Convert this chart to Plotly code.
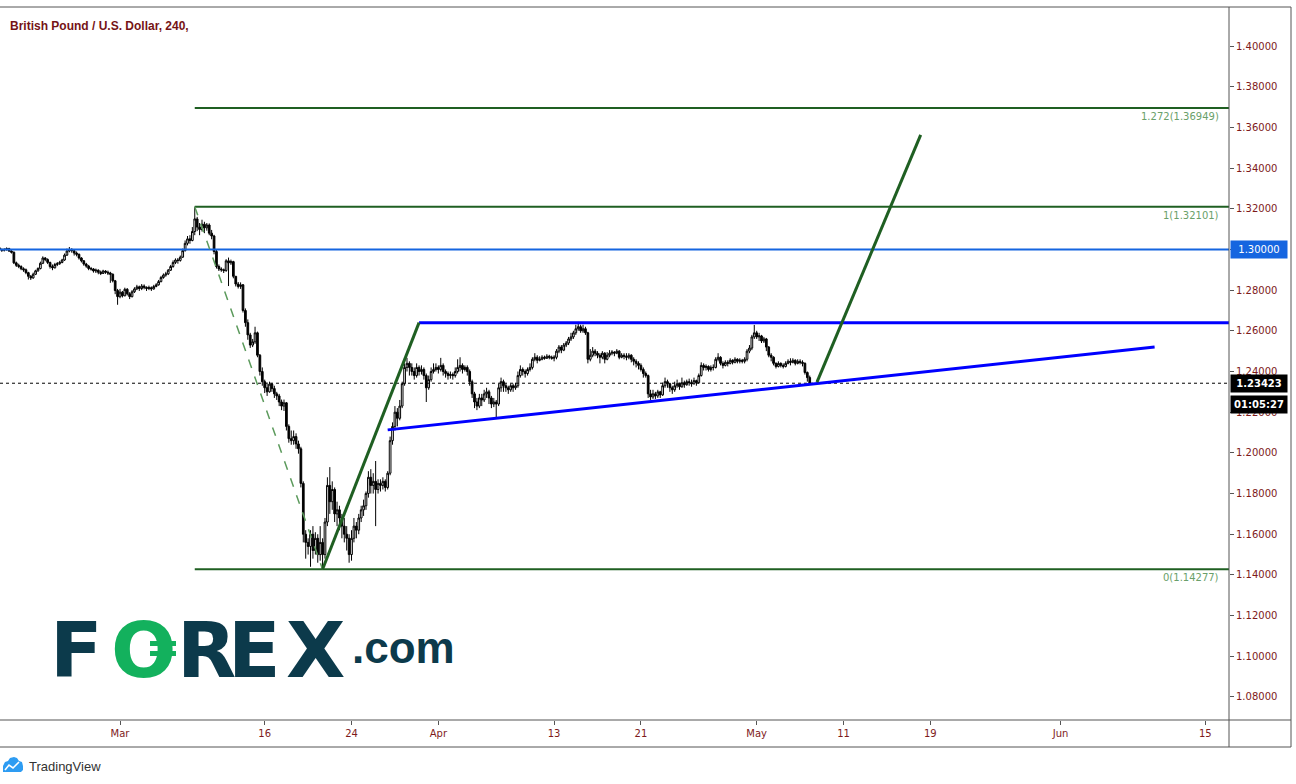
import pandas as pd
import plotly.graph_objects as go

# ---------------- data (prices in pips = 1e-4) ----------------
TITLE = "British Pound / U.S. Dollar, 240,"
first_open = 13008
close_pips = [
    13000, 12996,
    12999, 13004, 12992, 12986, 12934, 12922,
    12916, 12905, 12900, 12886, 12868, 12860,
    12878, 12895, 12906, 12932, 12958, 12950,
    12936, 12916, 12910, 12926, 12930, 12936,
    12948, 12972, 12992, 13000, 12994, 12982,
    12976, 12958, 12944, 12928, 12918, 12906,
    12904, 12894, 12898, 12888, 12882, 12894,
    12888, 12884, 12878, 12846, 12798, 12768,
    12790, 12772, 12804, 12782, 12768, 12792,
    12806, 12816, 12808, 12820, 12814, 12808,
    12812, 12806, 12818, 12826, 12842, 12862,
    12874, 12880, 12898, 12916, 12936, 12948,
    12946, 12962, 12994, 13030, 13052, 13044,
    13088, 13150, 13110, 13098, 13124, 13106,
    13120, 13080, 13066, 12990, 12916, 12904,
    12900, 12896, 12944, 12934, 12940, 12868,
    12830, 12818, 12826, 12700, 12640, 12580,
    12530, 12546, 12590, 12480, 12400, 12350,
    12320, 12300, 12338, 12316, 12290, 12280,
    12250, 12230, 12246, 12130, 12070, 12060,
    12080, 12044, 12020, 11850, 11600, 11560,
    11540, 11600, 11520, 11580, 11500, 11560,
    11500, 11660, 11840, 11760, 11820, 11700,
    11720, 11680, 11640, 11600, 11580, 11500,
    11580, 11640, 11620, 11680, 11720, 11740,
    11800, 11880, 11840, 11860, 11820, 11850,
    11840, 11860, 11830, 11900, 12060, 12130,
    12200, 12170, 12230, 12340, 12420, 12440,
    12420, 12400, 12380, 12420, 12400, 12410,
    12380, 12320, 12360, 12400, 12410, 12420,
    12410, 12430, 12400, 12390, 12380, 12385,
    12380, 12400, 12420, 12430, 12410, 12420,
    12400, 12350, 12290, 12250, 12230, 12270,
    12260, 12290, 12300, 12270, 12240, 12250,
    12240, 12320, 12350, 12330, 12320, 12310,
    12330, 12320, 12330, 12380, 12410, 12400,
    12390, 12410, 12420, 12460, 12470, 12455,
    12460, 12470, 12465, 12475, 12470, 12465,
    12470, 12500, 12520, 12505, 12530, 12540,
    12560, 12570, 12590, 12610, 12620, 12600,
    12610, 12590, 12460, 12480, 12500, 12490,
    12480, 12470, 12490, 12460, 12480, 12490,
    12495, 12490, 12500, 12470, 12480, 12475,
    12470, 12480, 12460, 12450, 12440, 12430,
    12410, 12390, 12380, 12290, 12275, 12290,
    12280, 12300, 12285, 12330, 12350, 12340,
    12320, 12310, 12330, 12340, 12325, 12345,
    12335, 12350, 12345, 12340, 12355, 12345,
    12380, 12430, 12420, 12425, 12410, 12420,
    12420, 12460, 12470, 12440, 12430, 12445,
    12440, 12455, 12445, 12460, 12450, 12455,
    12450, 12460, 12500, 12515, 12570, 12590,
    12570, 12575, 12550, 12560, 12520, 12480,
    12470, 12440, 12425, 12440, 12430, 12425,
    12440, 12450, 12445, 12455, 12440, 12450,
    12445, 12440, 12395, 12370, 12342,
]
high_pips = [
    13012, 13004,
    13006, 13010, 13008, 12996, 12990, 12940,
    12930, 12922, 12912, 12906, 12890, 12874,
    12886, 12900, 12912, 12940, 12966, 12962,
    12956, 12940, 12926, 12934, 12938, 12944,
    12954, 12980, 13004, 13012, 13006, 12998,
    12990, 12980, 12962, 12948, 12934, 12924,
    12914, 12908, 12906, 12902, 12896, 12900,
    12898, 12896, 12890, 12882, 12850, 12806,
    12806, 12796, 12812, 12810, 12790, 12800,
    12814, 12826, 12822, 12830, 12828, 12818,
    12822, 12818, 12826, 12834, 12850, 12870,
    12882, 12890, 12904, 12924, 12946, 12956,
    12958, 12970, 13004, 13044, 13066, 13070,
    13110, 13210, 13160, 13130, 13146, 13136,
    13130, 13128, 13096, 13072, 13000, 12926,
    12912, 12906, 12952, 12960, 12950, 12944,
    12862, 12840, 12838, 12830, 12710, 12656,
    12590, 12560, 12620, 12596, 12486, 12420,
    12360, 12346, 12350, 12344, 12330, 12300,
    12290, 12262, 12262, 12250, 12140, 12110,
    12110, 12096, 12060, 12030, 11860, 11620,
    11580, 11620, 11640, 11610, 11600, 11640,
    11580, 11680, 11880, 11930, 11860, 11830,
    11760, 11740, 11700, 11680, 11640, 11600,
    11620, 11680, 11660, 11700, 11740, 11770,
    11810, 11910, 11920, 11900, 11960, 11870,
    11870, 11880, 11870, 11910, 12080, 12150,
    12230, 12220, 12260, 12350, 12440, 12467,
    12450, 12440, 12420, 12440, 12430, 12430,
    12420, 12390, 12380, 12420, 12440, 12440,
    12430, 12467, 12440, 12410, 12400, 12400,
    12395, 12420, 12460, 12470, 12440, 12430,
    12430, 12410, 12360, 12300, 12270, 12290,
    12290, 12310, 12320, 12310, 12280, 12270,
    12260, 12340, 12370, 12360, 12340, 12330,
    12340, 12340, 12345, 12400, 12430, 12420,
    12410, 12420, 12440, 12470, 12490, 12480,
    12475, 12480, 12478, 12485, 12482, 12478,
    12480, 12510, 12530, 12530, 12540, 12550,
    12570, 12590, 12600, 12630, 12644, 12630,
    12630, 12620, 12595, 12510, 12520, 12510,
    12500, 12490, 12500, 12495, 12495, 12505,
    12505, 12500, 12510, 12505, 12490, 12490,
    12490, 12490, 12485, 12470, 12460, 12450,
    12440, 12420, 12400, 12385, 12310, 12310,
    12300, 12310, 12305, 12345, 12370, 12360,
    12345, 12330, 12350, 12360, 12345, 12370,
    12355, 12360, 12365, 12360, 12370, 12360,
    12390, 12445, 12440, 12435, 12430, 12430,
    12435, 12470, 12490, 12475, 12450, 12455,
    12455, 12465, 12460, 12470, 12465, 12465,
    12462, 12470, 12510, 12530, 12580, 12629,
    12600, 12590, 12580, 12570, 12565, 12525,
    12490, 12475, 12445, 12450, 12445, 12440,
    12450, 12460, 12465, 12465, 12460, 12460,
    12460, 12455, 12445, 12400, 12380,
]
low_pips = [
    12992, 12988,
    12990, 12994, 12988, 12980, 12928, 12914,
    12908, 12898, 12890, 12878, 12852, 12850,
    12856, 12874, 12890, 12902, 12928, 12942,
    12928, 12906, 12898, 12906, 12918, 12924,
    12932, 12944, 12968, 12986, 12984, 12970,
    12966, 12950, 12936, 12920, 12910, 12898,
    12896, 12886, 12884, 12878, 12874, 12880,
    12880, 12874, 12836, 12838, 12780, 12728,
    12760, 12764, 12770, 12774, 12756, 12764,
    12786, 12800, 12796, 12800, 12804, 12796,
    12800, 12796, 12802, 12814, 12822, 12838,
    12856, 12866, 12874, 12894, 12910, 12928,
    12930, 12940, 12958, 12990, 13020, 13028,
    13040, 13070, 13090, 13070, 13088, 13080,
    13092, 13070, 13050, 12976, 12906, 12894,
    12890, 12884, 12890, 12820, 12924, 12858,
    12818, 12808, 12806, 12690, 12620, 12556,
    12516, 12520, 12536, 12470, 12380, 12330,
    12294, 12280, 12296, 12300, 12270, 12260,
    12230, 12210, 12206, 12110, 12050, 12040,
    12040, 12020, 11996, 11830, 11560, 11480,
    11500, 11440, 11480, 11500, 11460, 11470,
    11428, 11480, 11640, 11700, 11720, 11660,
    11640, 11620, 11580, 11560, 11520, 11460,
    11470, 11560, 11580, 11600, 11660, 11690,
    11720, 11780, 11800, 11800, 11640, 11800,
    11810, 11820, 11810, 11820, 11890, 12040,
    12110, 12130, 12160, 12220, 12330, 12400,
    12380, 12380, 12360, 12370, 12380, 12385,
    12360, 12250, 12310, 12350, 12390, 12400,
    12390, 12400, 12380, 12370, 12360, 12365,
    12360, 12370, 12390, 12400, 12390, 12400,
    12380, 12330, 12270, 12220, 12210, 12220,
    12230, 12250, 12270, 12240, 12220, 12225,
    12172, 12230, 12300, 12300, 12300, 12290,
    12300, 12300, 12310, 12320, 12370, 12380,
    12370, 12380, 12400, 12410, 12450, 12440,
    12450, 12455, 12458, 12462, 12460, 12458,
    12450, 12460, 12490, 12490, 12500, 12520,
    12530, 12550, 12560, 12580, 12600, 12590,
    12590, 12580, 12440, 12450, 12470, 12475,
    12465, 12440, 12460, 12440, 12455, 12470,
    12480, 12475, 12485, 12460, 12465, 12460,
    12455, 12460, 12445, 12430, 12420, 12410,
    12400, 12370, 12370, 12270, 12260, 12265,
    12265, 12270, 12270, 12280, 12320, 12320,
    12300, 12290, 12300, 12320, 12310, 12320,
    12320, 12330, 12330, 12325, 12335, 12330,
    12340, 12375, 12405, 12405, 12400, 12400,
    12405, 12415, 12450, 12430, 12415, 12425,
    12425, 12435, 12435, 12440, 12440, 12440,
    12440, 12440, 12450, 12490, 12505, 12560,
    12560, 12550, 12540, 12540, 12500, 12470,
    12450, 12430, 12415, 12420, 12420, 12415,
    12420, 12435, 12430, 12440, 12430, 12435,
    12435, 12425, 12385, 12350, 12335,
]
first_bar_time = "2020-02-18 16:00"
x_range = ["2020-02-18 16:58", "2020-06-16 15:22"]
y_range = [1.06869, 1.41868]

x_tick_dates = ["2020-03-02", "2020-03-16", "2020-03-24", "2020-04-01", "2020-04-13",
                "2020-04-21", "2020-05-01", "2020-05-11", "2020-05-19", "2020-06-01", "2020-06-15"]
x_tick_labels = ["Mar", "16", "24", "Apr", "13", "21", "May", "11", "19", "Jun", "15"]
y_tick_values = [1.08, 1.10, 1.12, 1.14, 1.16, 1.18, 1.20, 1.22, 1.24, 1.26, 1.28,
                 1.30, 1.32, 1.34, 1.36, 1.38, 1.40]

fib_dates = ["2020-03-09 04:00", "2020-03-20 00:00"]
fib_prices = [1.32101, 1.14277]
fib_ratios = ["1.272", "1", "0"]
fib_levels = [1.36949, 1.32101, 1.14277]
round_level = 1.30000
resistance_start = "2020-03-30 16:00"
resistance_price = 1.2640
support_dates = ["2020-03-26 12:00", "2020-06-09 12:00"]
support_prices = [1.2113, 1.2520]
impulse_dates = ["2020-03-20 00:00", "2020-03-30 16:00"]
impulse_prices = [1.14277, 1.2640]
projection_dates = ["2020-05-07 04:00", "2020-05-18 08:00"]
projection_prices = [1.2348, 1.3563]
last_price = 1.23423
countdown = "01:05:27"

# ---------------- build ----------------
n = len(close_pips)
assert len(high_pips) == n and len(low_pips) == n
times = pd.date_range(first_bar_time, periods=n * 2, freq="4h")
times = times[times.dayofweek < 5][:n]
c = [v / 1e4 for v in close_pips]
o = [first_open / 1e4] + c[:-1]
h = [max(a, b, hh / 1e4) for a, b, hh in zip(o, c, high_pips)]
l = [min(a, b, ll / 1e4) for a, b, ll in zip(o, c, low_pips)]

MAROON = "#7e1a1a"
FIB_GREEN = "#1f5f22"
FIB_TEXT = "#6a9f6a"
BLUE = "#0000ff"
LEVEL_BLUE = "#1565e0"
W, H = 1296, 784
L_M, R_M, T_M, B_M = 0, 67, 8, 64
PW, PH = W - L_M - R_M, H - T_M - B_M


def px(xp):
    return (xp - L_M) / PW


def py(yp):
    return (H - B_M - yp) / PH


fig = go.Figure()
fig.add_trace(go.Candlestick(
    x=times, open=o, high=h, low=l, close=c,
    increasing=dict(line=dict(color="black", width=1), fillcolor="white"),
    decreasing=dict(line=dict(color="black", width=1), fillcolor="black"),
    whiskerwidth=0, showlegend=False, hoverinfo="skip"))

# current price dotted line
fig.add_trace(go.Scatter(x=x_range, y=[last_price, last_price], mode="lines",
                         line=dict(color="black", width=1, dash="dot"), hoverinfo="skip"))
# 1.30 level
fig.add_trace(go.Scatter(x=x_range, y=[round_level, round_level], mode="lines",
                         line=dict(color=LEVEL_BLUE, width=2), hoverinfo="skip"))
# fib levels
for lvl in fib_levels:
    fig.add_trace(go.Scatter(x=[fib_dates[0], x_range[1]], y=[lvl, lvl], mode="lines",
                             line=dict(color=FIB_GREEN, width=2), hoverinfo="skip"))
# fib trend (dashed)
fig.add_trace(go.Scatter(x=fib_dates, y=fib_prices, mode="lines",
                         line=dict(color="#5c9a5c", width=1.5, dash="dash"), hoverinfo="skip"))
# resistance
fig.add_trace(go.Scatter(x=[resistance_start, x_range[1]], y=[resistance_price, resistance_price],
                         mode="lines", line=dict(color=BLUE, width=3), hoverinfo="skip"))
# support
fig.add_trace(go.Scatter(x=support_dates, y=support_prices, mode="lines",
                         line=dict(color=BLUE, width=3), hoverinfo="skip"))
# impulse & projection
fig.add_trace(go.Scatter(x=impulse_dates, y=impulse_prices, mode="lines",
                         line=dict(color=FIB_GREEN, width=3), hoverinfo="skip"))
fig.add_trace(go.Scatter(x=projection_dates, y=projection_prices, mode="lines",
                         line=dict(color=FIB_GREEN, width=3), hoverinfo="skip"))

tick_font = dict(family="DejaVu Sans", size=10, color=MAROON)
fig.update_layout(
    width=W, height=H, margin=dict(l=L_M, r=R_M, t=T_M, b=B_M),
    paper_bgcolor="white", plot_bgcolor="white", showlegend=False, boxgap=0,
    xaxis=dict(type="date", range=x_range, rangebreaks=[dict(bounds=["sat", "mon"])],
               rangeslider=dict(visible=False), tickmode="array",
               tickvals=x_tick_dates, ticktext=x_tick_labels, ticks="outside", ticklen=4,
               tickcolor="#555555", showgrid=False, zeroline=False, showline=False,
               tickfont=tick_font),
    yaxis=dict(side="right", range=y_range, tickmode="array", tickvals=y_tick_values,
               ticktext=[f"{v:.5f}" for v in y_tick_values], ticks="outside", ticklen=4,
               tickcolor="#555555", showgrid=False, zeroline=False, showline=False,
               tickfont=tick_font),
)

# frame lines
line_style = dict(color="#555555", width=1)
shapes = [
    dict(type="line", xref="paper", yref="paper", x0=px(0), x1=px(1291), y0=py(7), y1=py(7), line=line_style),
    dict(type="line", xref="paper", yref="paper", x0=px(0), x1=px(1291), y0=py(720), y1=py(720), line=line_style),
    dict(type="line", xref="paper", yref="paper", x0=px(0), x1=px(1291), y0=py(747), y1=py(747), line=line_style),
    dict(type="line", xref="paper", yref="paper", x0=px(1229), x1=px(1229), y0=py(747), y1=py(7), line=line_style),
    dict(type="line", xref="paper", yref="paper", x0=px(1291), x1=px(1291), y0=py(747), y1=py(7), line=line_style),
]


def path(pts, close=True):
    s = "M " + " L ".join(f"{px(a):.5f},{py(b):.5f}" for a, b in pts)
    return s + (" Z" if close else "")


# TradingView icon
cloud = [(3, 772), (3, 766), (5, 762), (8, 761), (10, 758), (14, 757), (17, 758), (19, 761),
         (22, 762), (23, 766), (23, 770), (21, 772)]
shapes.append(dict(type="path", xref="paper", yref="paper", path=path(cloud),
                   fillcolor="#2e9cf2", line=dict(width=0)))
shapes.append(dict(type="path", xref="paper", yref="paper",
                   path=path([(5, 770), (9, 765), (13, 768), (19, 762)], close=False),
                   line=dict(color="white", width=1.6)))
# FOREX green mark bars
for yy in (641, 651):
    shapes.append(dict(type="rect", xref="paper", yref="paper", x0=px(150), x1=px(176),
                       y0=py(yy + 5), y1=py(yy), fillcolor="#13b15d", line=dict(width=0)))
fig.update_layout(shapes=shapes)

ann = []
ann.append(dict(xref="paper", yref="paper", x=px(8), y=py(26), xanchor="left", yanchor="middle",
                text=f"<b>{TITLE}</b>", showarrow=False,
                font=dict(family="Liberation Sans", size=12, color="#751316")))
for r, lvl in zip(fib_ratios, fib_levels):
    ann.append(dict(xref="paper", yref="y", x=px(1221), y=lvl, xanchor="right", yanchor="top",
                    text=f"{r}({lvl:.5f})", showarrow=False, yshift=-1,
                    font=dict(family="DejaVu Sans", size=10, color=FIB_TEXT)))
# axis value boxes
ann.append(dict(xref="paper", yref="y", x=px(1230), y=round_level, xanchor="left", yanchor="middle",
                text=f"{round_level:.5f}", showarrow=False, bgcolor=LEVEL_BLUE, width=52, height=13,
                borderpad=2, font=dict(family="DejaVu Sans", size=10, color="white")))
ann.append(dict(xref="paper", yref="y", x=px(1230), y=last_price, xanchor="left", yanchor="middle",
                text=f"<b>{last_price:.5f}</b>", showarrow=False, bgcolor="black", width=52, height=13,
                borderpad=2, font=dict(family="DejaVu Sans", size=10, color="white")))
ann.append(dict(xref="paper", yref="y", x=px(1230), y=last_price, xanchor="left", yanchor="middle",
                text=f"<b>{countdown}</b>", showarrow=False, bgcolor="black", width=52, height=13,
                borderpad=2, yshift=-21, font=dict(family="DejaVu Sans", size=10, color="white")))
# FOREX.com logo
for ch, cx, col in [("F", 76, "#0c3a4b"), ("O", 143, "#13b15d"), ("R", 206, "#0c3a4b"),
                    ("E", 255, "#0c3a4b"), ("X", 315, "#0c3a4b")]:
    ann.append(dict(xref="paper", yref="paper", x=px(cx), y=py(650), xanchor="center", yanchor="middle",
                    text=f"<b>{ch}</b>", showarrow=False,
                    font=dict(family="DejaVu Sans", size=77, color=col)))
ann.append(dict(xref="paper", yref="paper", x=px(403), y=py(647), xanchor="center", yanchor="middle",
                text="<b>.com</b>", showarrow=False,
                font=dict(family="Liberation Sans", size=44, color="#0c3a4b")))
ann.append(dict(xref="paper", yref="paper", x=px(27), y=py(766), xanchor="left", yanchor="middle",
                text="TradingView", showarrow=False,
                font=dict(family="Liberation Sans", size=13, color="#333333")))
fig.update_layout(annotations=ann)

fig.write_html("out.html", config={"displayModeBar": False},
               post_script="document.body.style.margin='0';document.body.style.padding='0';")
